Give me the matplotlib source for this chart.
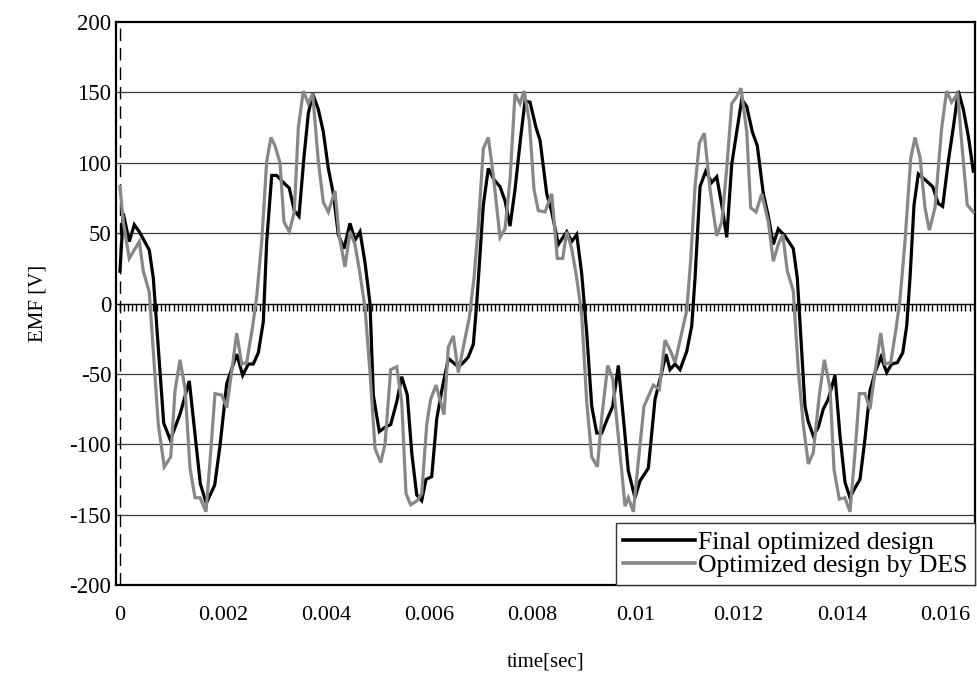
import matplotlib
matplotlib.use("Agg")
import matplotlib.pyplot as plt
from matplotlib.ticker import MultipleLocator, FixedLocator

# ---- data ----
t_final = [0.0, 0.000064, 0.000180, 0.000277, 0.000374, 0.000568, 0.000646, 0.000848, 0.000976,
           0.001170, 0.001344, 0.001558, 0.001674, 0.001837, 0.001940, 0.002070, 0.002264, 0.002380,
           0.002489, 0.002586, 0.002683, 0.002780, 0.002846, 0.002943, 0.003040, 0.003168, 0.003284,
           0.003381, 0.003472, 0.003569, 0.003653, 0.003738, 0.003847, 0.003944, 0.004041, 0.004138,
           0.004235, 0.004345, 0.004462, 0.004559, 0.004656, 0.004753, 0.004850, 0.004914, 0.005030,
           0.005141, 0.005251, 0.005368, 0.005465, 0.005573, 0.005659, 0.005756, 0.005853, 0.005936,
           0.006047, 0.006144, 0.006241, 0.006369, 0.006466, 0.006563, 0.006660, 0.006757, 0.006854,
           0.006920, 0.007048, 0.007145, 0.007255, 0.007372, 0.007469, 0.007566, 0.007663, 0.007760,
           0.007857, 0.007954, 0.008070, 0.008148, 0.008278, 0.008375, 0.008503, 0.008666, 0.008763,
           0.008860, 0.008957, 0.009054, 0.009151, 0.009248, 0.009345, 0.009442, 0.009558, 0.009667,
           0.009764, 0.009861, 0.009990, 0.010088, 0.010249, 0.010379, 0.010508, 0.010592, 0.010669,
           0.010766, 0.010864, 0.010994, 0.011091, 0.011155, 0.011252, 0.011362, 0.011479, 0.011576,
           0.011673, 0.011770, 0.011867, 0.011964, 0.012061, 0.012158, 0.012266, 0.012363, 0.012480,
           0.012577, 0.012673, 0.012770, 0.012900, 0.013061, 0.013139, 0.013224, 0.013288, 0.013352,
           0.013449, 0.013546, 0.013643, 0.013740, 0.013870, 0.013967, 0.014064, 0.014161, 0.014258,
           0.014355, 0.014452, 0.014549, 0.014646, 0.014763, 0.014873, 0.014970, 0.015079, 0.015184,
           0.015261, 0.015325, 0.015403, 0.015486, 0.015616, 0.015765, 0.015874, 0.015959, 0.016068,
           0.016165, 0.016262, 0.016359, 0.016456, 0.016553]
emf_final = [23, 64, 44, 56, 51, 38, 18, -85, -97,
             -78, -55, -128, -142, -129, -101, -57, -36, -51,
             -43, -43, -35, -13, 44, 91, 91, 86, 82,
             66, 62, 104, 135, 149, 138, 122, 96, 78,
             49, 39, 57, 45, 51, 29, 0, -65, -91,
             -88, -86, -70, -52, -65, -106, -136, -140, -125,
             -123, -82, -62, -39, -42, -45, -42, -38, -29,
             0, 70, 96, 88, 83, 73, 55, 81, 114,
             144, 143, 125, 116, 78, 65, 42, 51, 44,
             49, 21, -21, -73, -92, -92, -83, -73, -44,
             -81, -119, -138, -126, -117, -68, -49, -36, -47,
             -43, -47, -34, -16, 18, 83, 94, 86, 90,
             70, 47, 99, 122, 145, 140, 122, 112, 78,
             62, 42, 53, 48, 39, 18, -34, -73, -84,
             -94, -88, -75, -68, -51, -94, -127, -138, -131,
             -125, -96, -62, -49, -38, -49, -43, -42, -35,
             -16, 18, 70, 92, 88, 83, 71, 69, 101,
             125, 151, 138, 119, 94]

t_des = [0.0, 0.000064, 0.000180, 0.000277, 0.000374, 0.000452, 0.000568, 0.000743, 0.000859,
         0.000984, 0.001067, 0.001164, 0.001261, 0.001358, 0.001455, 0.001552, 0.001668, 0.001746,
         0.001843, 0.001973, 0.002070, 0.002167, 0.002264, 0.002361, 0.002458, 0.002574, 0.002652,
         0.002749, 0.002846, 0.002929, 0.003007, 0.003104, 0.003181, 0.003284, 0.003381, 0.003459,
         0.003556, 0.003653, 0.003738, 0.003847, 0.003944, 0.004041, 0.004171, 0.004248, 0.004365,
         0.004462, 0.004559, 0.004656, 0.004753, 0.004850, 0.004947, 0.005057, 0.005141, 0.005251,
         0.005368, 0.005465, 0.005548, 0.005639, 0.005767, 0.005853, 0.005950, 0.006027, 0.006130,
         0.006221, 0.006285, 0.006369, 0.006466, 0.006563, 0.006660, 0.006776, 0.006867, 0.006951,
         0.007048, 0.007145, 0.007242, 0.007372, 0.007469, 0.007566, 0.007663, 0.007760, 0.007837,
         0.007940, 0.008031, 0.008115, 0.008245, 0.008375, 0.008483, 0.008588, 0.008666, 0.008763,
         0.008860, 0.008957, 0.009054, 0.009151, 0.009260, 0.009345, 0.009461, 0.009558, 0.009636,
         0.009733, 0.009797, 0.009861, 0.009958, 0.010055, 0.010165, 0.010249, 0.010346, 0.010462,
         0.010573, 0.010683, 0.010766, 0.010864, 0.010994, 0.011071, 0.011155, 0.011238, 0.011335,
         0.011446, 0.011576, 0.011673, 0.011770, 0.011867, 0.011964, 0.012047, 0.012158, 0.012235,
         0.012338, 0.012449, 0.012577, 0.012673, 0.012770, 0.012856, 0.012945, 0.013061, 0.013158,
         0.013255, 0.013352, 0.013449, 0.013566, 0.013663, 0.013774, 0.013851, 0.013954, 0.014064,
         0.014161, 0.014258, 0.014342, 0.014452, 0.014549, 0.014646, 0.014757, 0.014840, 0.014951,
         0.015054, 0.015131, 0.015228, 0.015339, 0.015422, 0.015519, 0.015616, 0.015700, 0.015810,
         0.015940, 0.016036, 0.016133, 0.016250, 0.016347, 0.016436, 0.016553]
emf_des = [83, 58, 32, 38, 44, 23, 8, -86, -116,
           -109, -62, -40, -60, -117, -138, -138, -148, -112,
           -64, -65, -74, -48, -21, -43, -42, -16, 5,
           44, 101, 118, 112, 100, 58, 51, 65, 125,
           151, 142, 149, 101, 72, 65, 80, 49, 26,
           51, 42, 21, -3, -49, -103, -113, -100, -47,
           -45, -70, -135, -143, -140, -135, -86, -68, -58,
           -70, -79, -31, -23, -49, -31, -10, 18, 55,
           110, 118, 91, 47, 53, 88, 149, 142, 151,
           130, 81, 66, 65, 78, 32, 32, 51, 39,
           18, -8, -70, -109, -116, -81, -44, -53, -83,
           -119, -144, -138, -148, -112, -73, -66, -58, -61,
           -26, -34, -42, -26, -5, 31, 83, 114, 121,
           81, 48, 58, 96, 142, 147, 153, 122, 68,
           65, 78, 58, 30, 42, 49, 23, 9, -47,
           -86, -114, -106, -65, -40, -60, -118, -139, -138,
           -148, -106, -64, -64, -75, -49, -21, -43, -42,
           -18, 3, 44, 103, 118, 104, 68, 52, 68,
           125, 151, 143, 149, 106, 70, 65]

series_names = ["Final optimized design", "Optimized design by DES"]
x_ticks = [0, 0.002, 0.004, 0.006, 0.008, 0.010, 0.012, 0.014, 0.016]
x_ticklabels = ["0", "0.002", "0.004", "0.006", "0.008", "0.01", "0.012", "0.014", "0.016"]
y_ticks = [-200, -150, -100, -50, 0, 50, 100, 150, 200]

# ---- figure ----
plt.rcParams['font.family'] = ['Liberation Serif', 'DejaVu Serif']
plt.rcParams['axes.unicode_minus'] = False
fig = plt.figure(figsize=(9.77, 6.90), dpi=100)
ax = fig.add_axes([116/977, 1 - 585/690, (975 - 116)/977, (585 - 22)/690])

xmin, xmax = -0.0000776, 0.016586
ax.set_xlim(xmin, xmax)
ax.set_ylim(-200, 200)

# grid lines
for yv in y_ticks[1:-1]:
    if yv != 0:
        ax.axhline(yv, color='#3a3a3a', lw=0.9, zorder=1)
ax.axhline(0, color='black', lw=1.0, zorder=1)
ax.axvline(0, color='black', lw=1.0, dashes=(9, 5), zorder=1)

ax.plot(t_final, emf_final, color='black', lw=2.3, label=series_names[0], zorder=3,
        solid_joinstyle='miter')
ax.plot(t_des, emf_des, color='#878787', lw=2.3, label=series_names[1], zorder=4,
        solid_joinstyle='miter')

ax.xaxis.set_major_locator(FixedLocator(x_ticks))
ax.set_xticklabels(x_ticklabels)
ax.yaxis.set_major_locator(FixedLocator(y_ticks))
ax.tick_params(axis='x', length=0, pad=15, labelsize=16)
ax.tick_params(axis='y', length=0, pad=3.5, labelsize=16.5)

for s in ax.spines.values():
    s.set_color('black')
    s.set_linewidth(1.6)

ax.set_xlabel("time[sec]", fontsize=15, labelpad=20)
ax.set_ylabel("EMF [V]", fontsize=15, labelpad=16)

# minor tick marks along the zero line
ax2 = ax.twiny()
ax2.set_xlim(xmin, xmax)
for name, s in ax2.spines.items():
    s.set_visible(False)
ax2.spines['bottom'].set_visible(True)
ax2.spines['bottom'].set_position(('data', 0))
ax2.spines['bottom'].set_linewidth(0)
ax2.xaxis.set_ticks_position('bottom')
ax2.xaxis.set_major_locator(MultipleLocator(0.00008))
ax2.tick_params(axis='x', direction='out', length=5, width=1.0, color='black',
                labelbottom=False, labeltop=False)
ax2.set_zorder(ax.get_zorder() - 1)
ax.patch.set_visible(False)

leg = ax.legend(loc='lower right', bbox_to_anchor=(1.0, 0.0), fontsize=18.5,
                frameon=True, fancybox=False, edgecolor='#333333', framealpha=1,
                handlelength=2.8, handletextpad=0.1, borderpad=0.3, labelspacing=0.02,
                borderaxespad=0.0)
leg.get_frame().set_linewidth(1.0)
for line in leg.get_lines():
    line.set_linewidth(2.6)

fig.savefig("out.png", dpi=100, facecolor='white')
